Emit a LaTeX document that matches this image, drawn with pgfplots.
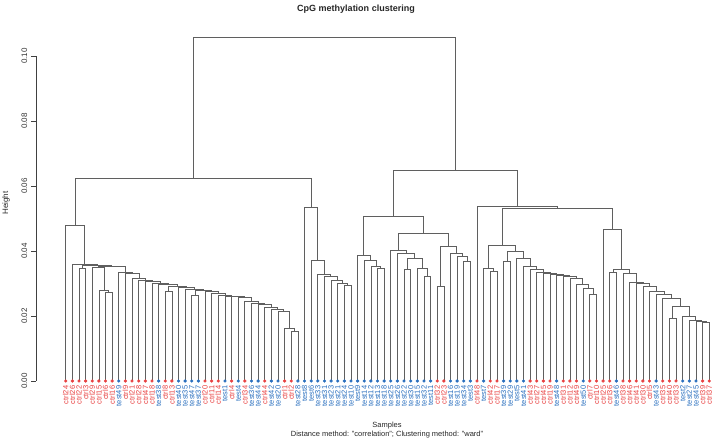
\documentclass[border=0pt]{standalone}
\usepackage{pgfplots}
\pgfplotsset{compat=1.18}
\usepackage{fontspec}
\setmainfont{Liberation Sans}
\definecolor{ctrlc}{RGB}{232,64,64}
\definecolor{testc}{RGB}{40,110,190}
\definecolor{treec}{RGB}{95,95,95}
\newcommand\C[1]{\textcolor{ctrlc}{ctrl#1}}
\newcommand\T[1]{\textcolor{testc}{test#1}}
\begin{document}
\begin{tikzpicture}
\begin{axis}[
  scale only axis, width=677.2pt, height=343.85pt,
  xmin=-3.48, xmax=98.6, ymin=0, ymax=0.1058,
  axis lines*=left, axis line style={draw=none},
  clip=false,
  tick align=outside, major tick length=4.5pt,
  xtick={1,...,98},
  xticklabels={\C{24},\C{26},\C{22},\C{3},\C{29},\C{15},\C{6},\C{16},\T{49},\C{9},
    \C{21},\C{28},\C{47},\C{18},\T{38},\C{8},\C{13},\T{40},\T{35},\T{47},
    \T{37},\C{20},\C{11},\C{14},\T{1},\C{4},\T{4},\C{34},\T{36},\T{44},
    \C{44},\T{42},\T{20},\C{1},\C{2},\T{28},\T{8},\T{6},\T{33},\T{31},
    \T{23},\T{21},\T{24},\T{10},\T{9},\T{14},\T{12},\T{13},\T{18},\T{25},
    \T{26},\T{22},\T{30},\T{15},\T{32},\T{11},\C{32},\C{23},\T{16},\T{19},
    \T{34},\T{3},\C{48},\T{7},\C{42},\C{17},\T{39},\T{29},\T{5},\T{41},
    \C{43},\C{27},\C{45},\C{19},\T{48},\C{31},\C{12},\C{49},\T{50},\C{7},
    \C{10},\C{25},\C{36},\T{46},\C{38},\C{46},\C{41},\C{30},\C{5},\T{43},
    \C{35},\C{40},\C{33},\T{2},\T{27},\T{45},\C{39},\C{37}},
  xtick style={draw=none},
  xticklabel style={rotate=90, anchor=east, inner sep=0pt, font=\fontsize{7.5}{8}\selectfont},
  ytick={0,0.02,0.04,0.06,0.08,0.1},
  yticklabels={0.00,0.02,0.04,0.06,0.08,0.10},
  scaled y ticks=false,
  ytick style={draw=black!75, line width=0.6pt},
  yticklabel style={rotate=90, anchor=south, inner sep=4pt, font=\fontsize{8}{9}\selectfont, text=black!80},
  unbounded coords=jump,
]
\addplot[treec, line width=0.7pt, mark=none] coordinates {
(7,0)(7,0.0273)(8,0.0273)(8,0)(nan,nan)
(6,0)(6,0.0280)(7.5,0.0280)(7.5,0.0273)(nan,nan)
(5,0)(5,0.0349)(6.75,0.0349)(6.75,0.0280)(nan,nan)
(3,0)(3,0.0347)(4,0.0347)(4,0)(nan,nan)
(35,0)(35,0.0152)(36,0.0152)(36,0)(nan,nan)
(34,0)(34,0.0162)(35.5,0.0162)(35.5,0.0152)(nan,nan)
(33,0)(33,0.0214)(34.75,0.0214)(34.75,0.0162)(nan,nan)
(32,0)(32,0.0219)(33.875,0.0219)(33.875,0.0214)(nan,nan)
(31,0)(31,0.0226)(32.9375,0.0226)(32.9375,0.0219)(nan,nan)
(30,0)(30,0.0235)(31.9688,0.0235)(31.9688,0.0226)(nan,nan)
(29,0)(29,0.0240)(30.9844,0.0240)(30.9844,0.0235)(nan,nan)
(28,0)(28,0.0246)(29.9922,0.0246)(29.9922,0.0240)(nan,nan)
(27,0)(27,0.0258)(28.9961,0.0258)(28.9961,0.0246)(nan,nan)
(26,0)(26,0.0260)(27.9980,0.0260)(27.9980,0.0258)(nan,nan)
(25,0)(25,0.0261)(26.9990,0.0261)(26.9990,0.0260)(nan,nan)
(24,0)(24,0.0263)(25.9995,0.0263)(25.9995,0.0261)(nan,nan)
(23,0)(23,0.0270)(24.9998,0.0270)(24.9998,0.0263)(nan,nan)
(22,0)(22,0.0276)(23.9999,0.0276)(23.9999,0.0270)(nan,nan)
(20,0)(20,0.0262)(21,0.0262)(21,0)(nan,nan)
(20.5,0.0262)(20.5,0.0280)(22.9999,0.0280)(22.9999,0.0276)(nan,nan)
(19,0)(19,0.0283)(21.75,0.0283)(21.75,0.0280)(nan,nan)
(18,0)(18,0.0288)(20.375,0.0288)(20.375,0.0283)(nan,nan)
(16,0)(16,0.0275)(17,0.0275)(17,0)(nan,nan)
(16.5,0.0275)(16.5,0.0292)(19.1875,0.0292)(19.1875,0.0288)(nan,nan)
(15,0)(15,0.0297)(17.8438,0.0297)(17.8438,0.0292)(nan,nan)
(14,0)(14,0.0301)(16.4219,0.0301)(16.4219,0.0297)(nan,nan)
(13,0)(13,0.0306)(15.2109,0.0306)(15.2109,0.0301)(nan,nan)
(12,0)(12,0.0311)(14.1055,0.0311)(14.1055,0.0306)(nan,nan)
(11,0)(11,0.0316)(13.0527,0.0316)(13.0527,0.0311)(nan,nan)
(10,0)(10,0.0330)(12.0264,0.0330)(12.0264,0.0316)(nan,nan)
(9,0)(9,0.0335)(11.0132,0.0335)(11.0132,0.0330)(nan,nan)
(5.875,0.0349)(5.875,0.0354)(10.0066,0.0354)(10.0066,0.0335)(nan,nan)
(3.5,0.0347)(3.5,0.0357)(7.9408,0.0357)(7.9408,0.0354)(nan,nan)
(2,0)(2,0.0360)(5.7204,0.0360)(5.7204,0.0357)(nan,nan)
(1,0)(1,0.0480)(3.8602,0.0480)(3.8602,0.0360)(nan,nan)
(43,0)(43,0.0293)(44,0.0293)(44,0)(nan,nan)
(42,0)(42,0.0300)(43.5,0.0300)(43.5,0.0293)(nan,nan)
(41,0)(41,0.0311)(42.75,0.0311)(42.75,0.0300)(nan,nan)
(40,0)(40,0.0323)(41.875,0.0323)(41.875,0.0311)(nan,nan)
(39,0)(39,0.0328)(40.9375,0.0328)(40.9375,0.0323)(nan,nan)
(38,0)(38,0.0370)(39.9688,0.0370)(39.9688,0.0328)(nan,nan)
(37,0)(37,0.0535)(38.9844,0.0535)(38.9844,0.0370)(nan,nan)
(2.4301,0.0480)(2.4301,0.0625)(37.9922,0.0625)(37.9922,0.0535)(nan,nan)
(48,0)(48,0.0347)(49,0.0347)(49,0)(nan,nan)
(47,0)(47,0.0352)(48.5,0.0352)(48.5,0.0347)(nan,nan)
(46,0)(46,0.0370)(47.75,0.0370)(47.75,0.0352)(nan,nan)
(45,0)(45,0.0388)(46.875,0.0388)(46.875,0.0370)(nan,nan)
(55,0)(55,0.0321)(56,0.0321)(56,0)(nan,nan)
(54,0)(54,0.0348)(55.5,0.0348)(55.5,0.0321)(nan,nan)
(52,0)(52,0.0342)(53,0.0342)(53,0)(nan,nan)
(52.5,0.0342)(52.5,0.0378)(54.75,0.0378)(54.75,0.0348)(nan,nan)
(51,0)(51,0.0393)(53.625,0.0393)(53.625,0.0378)(nan,nan)
(50,0)(50,0.0403)(52.3125,0.0403)(52.3125,0.0393)(nan,nan)
(57,0)(57,0.0290)(58,0.0290)(58,0)(nan,nan)
(61,0)(61,0.0367)(62,0.0367)(62,0)(nan,nan)
(60,0)(60,0.0385)(61.5,0.0385)(61.5,0.0367)(nan,nan)
(59,0)(59,0.0393)(60.75,0.0393)(60.75,0.0385)(nan,nan)
(57.5,0.0290)(57.5,0.0413)(59.875,0.0413)(59.875,0.0393)(nan,nan)
(51.1563,0.0403)(51.1563,0.0454)(58.6875,0.0454)(58.6875,0.0413)(nan,nan)
(45.9375,0.0388)(45.9375,0.0506)(54.9219,0.0506)(54.9219,0.0454)(nan,nan)
(65,0)(65,0.0336)(66,0.0336)(66,0)(nan,nan)
(64,0)(64,0.0348)(65.5,0.0348)(65.5,0.0336)(nan,nan)
(67,0)(67,0.0367)(68,0.0367)(68,0)(nan,nan)
(80,0)(80,0.0268)(81,0.0268)(81,0)(nan,nan)
(79,0)(79,0.0285)(80.5,0.0285)(80.5,0.0268)(nan,nan)
(78,0)(78,0.0298)(79.75,0.0298)(79.75,0.0285)(nan,nan)
(77,0)(77,0.0315)(78.875,0.0315)(78.875,0.0298)(nan,nan)
(76,0)(76,0.0321)(77.9375,0.0321)(77.9375,0.0315)(nan,nan)
(75,0)(75,0.0325)(76.9688,0.0325)(76.9688,0.0321)(nan,nan)
(74,0)(74,0.0327)(75.9844,0.0327)(75.9844,0.0325)(nan,nan)
(73,0)(73,0.0331)(74.9922,0.0331)(74.9922,0.0327)(nan,nan)
(72,0)(72,0.0335)(73.9961,0.0335)(73.9961,0.0331)(nan,nan)
(71,0)(71,0.0344)(72.9980,0.0344)(72.9980,0.0335)(nan,nan)
(70,0)(70,0.0352)(71.9990,0.0352)(71.9990,0.0344)(nan,nan)
(69,0)(69,0.0378)(70.9995,0.0378)(70.9995,0.0352)(nan,nan)
(67.5,0.0367)(67.5,0.0398)(69.9998,0.0398)(69.9998,0.0378)(nan,nan)
(64.75,0.0348)(64.75,0.0418)(68.7499,0.0418)(68.7499,0.0398)(nan,nan)
(97,0)(97,0.0180)(98,0.0180)(98,0)(nan,nan)
(96,0)(96,0.0183)(97.5,0.0183)(97.5,0.0180)(nan,nan)
(95,0)(95,0.0187)(96.75,0.0187)(96.75,0.0183)(nan,nan)
(94,0)(94,0.0198)(95.875,0.0198)(95.875,0.0187)(nan,nan)
(92,0)(92,0.0193)(93,0.0193)(93,0)(nan,nan)
(92.5,0.0193)(92.5,0.0229)(94.9375,0.0229)(94.9375,0.0198)(nan,nan)
(91,0)(91,0.0254)(93.7188,0.0254)(93.7188,0.0229)(nan,nan)
(90,0)(90,0.0268)(92.3594,0.0268)(92.3594,0.0254)(nan,nan)
(89,0)(89,0.0277)(91.1797,0.0277)(91.1797,0.0268)(nan,nan)
(88,0)(88,0.0290)(90.0898,0.0290)(90.0898,0.0277)(nan,nan)
(87,0)(87,0.0300)(89.0449,0.0300)(89.0449,0.0290)(nan,nan)
(86,0)(86,0.0302)(88.0225,0.0302)(88.0225,0.0300)(nan,nan)
(85,0)(85,0.0330)(87.0112,0.0330)(87.0112,0.0302)(nan,nan)
(83,0)(83,0.0335)(84,0.0335)(84,0)(nan,nan)
(83.5,0.0335)(83.5,0.0342)(86.0056,0.0342)(86.0056,0.0330)(nan,nan)
(82,0)(82,0.0467)(84.7528,0.0467)(84.7528,0.0342)(nan,nan)
(66.75,0.0418)(66.75,0.0531)(83.3764,0.0531)(83.3764,0.0467)(nan,nan)
(63,0)(63,0.0536)(75.0632,0.0536)(75.0632,0.0531)(nan,nan)
(50.4297,0.0506)(50.4297,0.0649)(69.0316,0.0649)(69.0316,0.0536)(nan,nan)
(20.2112,0.0625)(20.2112,0.1058)(59.7307,0.1058)(59.7307,0.0649)
};
\addplot[only marks, mark=*, mark size=1.4pt, ctrlc] coordinates {
(1,0)(2,0)(3,0)(4,0)(5,0)(6,0)(7,0)(8,0)(10,0)(11,0)(12,0)(13,0)(14,0)(16,0)(17,0)
(22,0)(23,0)(24,0)(26,0)(28,0)(31,0)(34,0)(35,0)(57,0)(58,0)(63,0)(65,0)(66,0)
(71,0)(72,0)(73,0)(74,0)(76,0)(77,0)(78,0)(80,0)(81,0)(82,0)(83,0)(85,0)(86,0)
(87,0)(88,0)(89,0)(91,0)(92,0)(93,0)(97,0)(98,0)
};
\addplot[only marks, mark=*, mark size=1.4pt, testc] coordinates {
(9,0)(15,0)(18,0)(19,0)(20,0)(21,0)(25,0)(27,0)(29,0)(30,0)(32,0)(33,0)
(36,0)(37,0)(38,0)(39,0)(40,0)(41,0)(42,0)(43,0)(44,0)(45,0)(46,0)(47,0)(48,0)
(49,0)(50,0)(51,0)(52,0)(53,0)(54,0)(55,0)(56,0)(59,0)(60,0)(61,0)(62,0)(64,0)
(67,0)(68,0)(69,0)(70,0)(75,0)(79,0)(84,0)(90,0)(94,0)(95,0)(96,0)
};
\draw[black!75, line width=0.6pt] (axis cs:-3.48,0) -- (axis cs:-3.48,0.1);
\end{axis}
\node[font=\bfseries\fontsize{9}{10}\selectfont, text=black!85] at (320pt,372pt) {CpG methylation clustering};
\node[rotate=90, font=\fontsize{8}{9}\selectfont, text=black!85] at (-30pt,178pt) {Height};
\node[font=\fontsize{7.5}{8}\selectfont, text=black!85] at (351pt,-45pt) {Samples};
\node[font=\fontsize{7.5}{8}\selectfont, text=black!85] at (351pt,-54pt) {Distance method: "correlation"; Clustering method: "ward"};
\pgfresetboundingbox
\path[use as bounding box] (-36pt,-62pt) rectangle (678pt,381pt);
\end{tikzpicture}
\end{document}
